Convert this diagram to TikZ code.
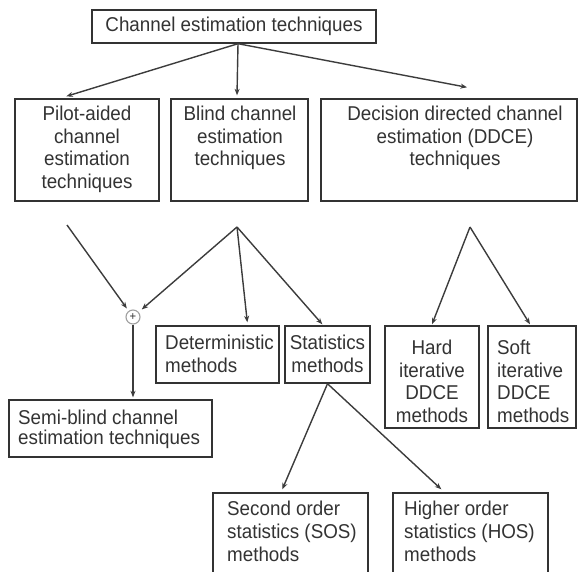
\documentclass[tikz,border=0pt]{standalone}
\usepackage{fontspec}
\setmainfont[FakeStretch=0.94]{Liberation Sans}
\usetikzlibrary{arrows.meta,calc}
\definecolor{ink}{HTML}{333333}
\definecolor{wire}{HTML}{3C3C3C}
\begin{document}
\begin{tikzpicture}[x=1pt,y=-1pt,
  box/.style={draw=ink,line width=1.4pt,rectangle,inner sep=0pt,fill=white},
  txt/.style={inner sep=0pt,text=ink,font=\fontsize{20}{22.5}\selectfont},
  arr/.style={draw=wire,line width=1.4pt,-{Stealth[length=6.5pt,width=5pt]}},
  ln/.style={draw=wire,line width=1.4pt}]
\useasboundingbox (0,0) rectangle (578,571);
\clip (0,0) rectangle (578,571);
% boxes
\node[box,minimum width=284,minimum height=33,txt] (top) at (234,26.5) {Channel estimation techniques};
\node[box,minimum width=144,minimum height=102] (pilot) at (87,150) {};
\node[box,minimum width=137,minimum height=102] (blind) at (239.5,150) {};
\node[box,minimum width=256,minimum height=102] (ddce) at (449,150) {};
\node[box,minimum width=123,minimum height=57] (det) at (217.5,354.5) {};
\node[box,minimum width=85,minimum height=57] (stat) at (327.5,354.5) {};
\node[box,minimum width=94,minimum height=102] (hard) at (432,377) {};
\node[box,minimum width=88,minimum height=102] (soft) at (532,377) {};
\node[box,minimum width=203,minimum height=57] (semi) at (110.5,428.5) {};
\node[box,minimum width=155,minimum height=87] (sos) at (290.5,536.5) {};
\node[box,minimum width=155,minimum height=87] (hos) at (470.5,536.5) {};
\node[circle,draw=gray!75,line width=1.1pt,fill=white,minimum size=14pt,inner sep=0pt,text=ink,font=\fontsize{12}{12}\selectfont] (plus) at (133,317) {+};
% texts
\node[txt,align=center,anchor=north] (pilotT) at (87,106) {Pilot-aided\\channel\\estimation\\techniques};
\node[txt,align=center,anchor=north] (blindT) at (240,106) {Blind channel\\estimation\\techniques};
\node[txt,align=center,anchor=north] (ddceT) at (455,106) {Decision directed channel\\estimation (DDCE)\\techniques};
\node[txt,align=left,anchor=north west] (detT) at (165,335) {Deterministic\\methods};
\node[txt,align=center,anchor=north] (statT) at (327.5,335) {Statistics\\methods};
\node[txt,align=center,anchor=north] (hardT) at (432,340) {Hard\\iterative\\DDCE\\methods};
\node[txt,align=left,anchor=north west] (softT) at (497,340) {Soft\\iterative\\DDCE\\methods};
\node[txt,align=left,anchor=north west,font=\fontsize{20}{20}\selectfont] (semiT) at (18,410) {Semi-blind channel\\estimation techniques};
\node[txt,align=left,anchor=north west,font=\fontsize{20}{23}\selectfont] (sosT) at (227,501) {Second order\\statistics (SOS)\\methods};
\node[txt,align=left,anchor=north west,font=\fontsize{20}{23}\selectfont] (hosT) at (404,501) {Higher order\\statistics (HOS)\\methods};
% free ends
\coordinate (pilotout) at (67,225);
\coordinate (blindfork) at (237,227);
\coordinate (ddcefork) at (470,227);
% connectors
\draw[arr] ([xshift=4pt]top.south) -- ([xshift=52pt,yshift=2pt]pilot.north west);
\draw[arr] ([xshift=4pt]top.south) -- ([xshift=-2.5pt,yshift=3pt]blind.north);
\draw[arr] ([xshift=4pt]top.south) -- ([xshift=18pt,yshift=11pt]ddce.north);
\draw[arr,shorten >=3pt] (pilotout) -- (plus);
\draw[arr,shorten >=4pt] (blindfork) -- (plus);
\draw[arr] (blindfork) -- ([xshift=92pt,yshift=3pt]det.north west);
\draw[arr] (blindfork) -- ([xshift=38pt,yshift=1pt]stat.north west);
\draw[arr] (plus.south) -- ([yshift=2pt]plus.south |- semi.north);
\draw[arr] (ddcefork) -- ([yshift=1pt]hard.north);
\draw[arr] (ddcefork) -- ([xshift=-2pt,yshift=1pt]soft.north);
\draw[arr] (stat.south) -- ([xshift=70pt,yshift=3pt]sos.north west);
\draw[arr] (stat.south) -- ([xshift=49pt,yshift=3pt]hos.north west);
\end{tikzpicture}
\end{document}
